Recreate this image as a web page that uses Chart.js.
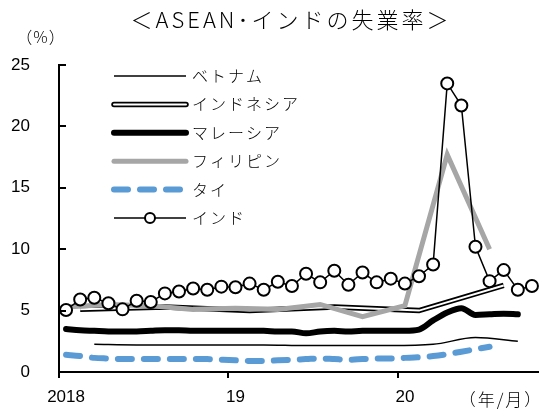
<!DOCTYPE html>
<html>
<head>
<meta charset="utf-8">
<script src="https://cdn.jsdelivr.net/npm/chart.js@4"></script>
<style>
  html, body { margin: 0; padding: 0; background: #fff; }
  canvas { display: block; }
</style>
</head>
<body>
<canvas id="c" width="539" height="414"></canvas>
<script>
// Monthly categories, 2018/1 to 2020/10
const months = [
  '2018/1','2018/2','2018/3','2018/4','2018/5','2018/6','2018/7','2018/8','2018/9','2018/10','2018/11','2018/12',
  '2019/1','2019/2','2019/3','2019/4','2019/5','2019/6','2019/7','2019/8','2019/9','2019/10','2019/11','2019/12',
  '2020/1','2020/2','2020/3','2020/4','2020/5','2020/6','2020/7','2020/8','2020/9','2020/10'
];
const yearTickLabels = ['2018', '19', '20'];
const yTicks = [0, 5, 10, 15, 20, 25];

const seriesNames = ['ベトナム', 'インドネシア', 'マレーシア', 'フィリピン', 'タイ', 'インド'];

// Unemployment rate (%); null = no release that month
const vietnam = [
  null, null, 2.25, null, null, 2.2, null, null, 2.2, null, null, 2.2,
  null, null, 2.2, null, null, 2.15, null, null, 2.15, null, null, 2.15,
  null, null, 2.25, null, null, 2.8, null, null, 2.5, null
];
const indonesia = [
  null, 5.1, null, null, null, null, null, 5.3, null, null, null, null,
  null, 5.0, null, null, null, null, null, 5.3, null, null, null, null,
  null, 5.0, null, null, null, null, null, 7.05, null, null
];
const malaysia = [
  3.5, 3.4, 3.35, 3.3, 3.3, 3.3, 3.35, 3.4, 3.4, 3.35, 3.35, 3.35,
  3.35, 3.35, 3.35, 3.3, 3.3, 3.15, 3.3, 3.35, 3.3, 3.35, 3.35, 3.35,
  3.35, 3.45, 4.2, 4.85, 5.2, 4.65, 4.7, 4.75, 4.7, null
];
const philippines = [
  5.3, null, null, 5.5, null, null, 5.4, null, null, 5.1, null, null,
  5.2, null, null, 5.1, null, null, 5.5, null, null, 4.5, null, null,
  5.4, null, null, 17.7, null, null, 10.0, null, null, null
];
const thailand = [
  1.4, 1.3, 1.15, 1.1, 1.05, 1.05, 1.05, 1.05, 1.05, 1.05, 1.05, 1.0,
  0.95, 0.9, 0.9, 0.95, 1.0, 1.05, 1.1, 1.05, 1.0, 1.05, 1.1, 1.1,
  1.15, 1.2, 1.3, 1.45, 1.65, 1.85, 2.05, null, null, null
];
const india = [
  5.05, 5.9, 6.05, 5.6, 5.1, 5.8, 5.7, 6.4, 6.55, 6.8, 6.7, 6.95,
  6.9, 7.2, 6.7, 7.35, 7.0, 8.0, 7.3, 8.25, 7.1, 8.1, 7.3, 7.6,
  7.2, 7.8, 8.75, 23.5, 21.7, 10.2, 7.4, 8.3, 6.7, 7.0
];

const JP = '"Noto Sans CJK JP", "Noto Sans", sans-serif';
const NUM = '"Liberation Sans", Arial, sans-serif';
const BLUE = '#5b9bd5';
const GRAY = '#a6a6a6';

const line = (extra) => Object.assign({
  pointRadius: 0, pointHoverRadius: 0, fill: false, spanGaps: true, tension: 0
}, extra);

const datasets = [
  line({ label: seriesNames[5], data: india, order: 0, borderColor: '#000', borderWidth: 1.5,
         pointRadius: 6, pointBorderWidth: 2, pointBorderColor: '#000', pointBackgroundColor: '#fff' }),
  line({ label: seriesNames[4], data: thailand, order: 1, borderColor: BLUE, borderWidth: 6,
         borderDash: [14, 12], borderCapStyle: 'round', cubicInterpolationMode: 'monotone', spanGaps: false }),
  line({ label: seriesNames[3], data: philippines, order: 2, borderColor: GRAY, borderWidth: 5 }),
  line({ label: seriesNames[2], data: malaysia, order: 3, borderColor: '#000', borderWidth: 6,
         cubicInterpolationMode: 'monotone', borderCapStyle: 'round' }),
  line({ label: seriesNames[1], data: indonesia, order: 4, borderColor: '#fff', borderWidth: 2 }),
  line({ label: seriesNames[1], data: indonesia, order: 5, borderColor: '#000', borderWidth: 5.5 }),
  line({ label: seriesNames[0], data: vietnam, order: 6, borderColor: '#000', borderWidth: 1.5,
         cubicInterpolationMode: 'monotone' })
];

// Legend keys, titles, unit labels and inward y-axis ticks
const decor = {
  id: 'decor',
  afterDraw(chart) {
    const ctx = chart.ctx;
    const area = chart.chartArea;
    const ys = chart.scales.y;
    ctx.save();

    // short tick marks pointing into the plot
    ctx.strokeStyle = '#000';
    ctx.lineWidth = 2;
    yTicks.forEach(v => {
      const py = Math.round(ys.getPixelForValue(v));
      ctx.beginPath();
      ctx.moveTo(area.left, py);
      ctx.lineTo(area.left + 7, py);
      ctx.stroke();
    });

    // title
    ctx.fillStyle = '#000';
    ctx.textBaseline = 'middle';
    ctx.textAlign = 'center';
    ctx.font = '300 22px ' + JP;
    ctx.letterSpacing = '3px';
    ctx.fillText('＜ASEAN･インドの失業率＞', 291, 20);

    // units
    ctx.font = '300 16px ' + JP;
    ctx.letterSpacing = '1px';
    ctx.fillText('（%）', 41, 37);
    ctx.font = '300 17px ' + JP;
    ctx.letterSpacing = '2px';
    ctx.fillText('（年/月）', 501, 400);

    // legend
    const x1 = 114, x2 = 186, tx = 192;
    const rowY = i => 76 + i * 28.4;
    const stroke = (y, color, width, dash, cap) => {
      ctx.beginPath();
      ctx.setLineDash(dash || []);
      ctx.lineCap = cap || 'butt';
      ctx.strokeStyle = color;
      ctx.lineWidth = width;
      ctx.moveTo(x1, y);
      ctx.lineTo(x2, y);
      ctx.stroke();
      ctx.setLineDash([]);
    };
    const styles = [
      y => stroke(y, '#000', 1.5),
      y => { stroke(y, '#000', 5.5, null, 'round'); stroke(y, '#fff', 2, null, 'round'); },
      y => stroke(y, '#000', 6, null, 'round'),
      y => stroke(y, GRAY, 5, null, 'round'),
      y => stroke(y, BLUE, 6, [14, 12], 'round'),
      y => {
        stroke(y, '#000', 1.5);
        ctx.beginPath();
        ctx.arc((x1 + x2) / 2, y, 5, 0, Math.PI * 2);
        ctx.fillStyle = '#fff';
        ctx.fill();
        ctx.lineWidth = 2;
        ctx.strokeStyle = '#000';
        ctx.stroke();
      }
    ];
    ctx.textAlign = 'left';
    ctx.font = '300 16px ' + JP;
    ctx.letterSpacing = '2px';
    seriesNames.forEach((name, i) => {
      const y = rowY(i);
      styles[i](y);
      ctx.fillStyle = '#000';
      ctx.fillText(name, tx, y);
    });

    ctx.restore();
  }
};

new Chart(document.getElementById('c'), {
  type: 'line',
  data: { labels: months, datasets },
  plugins: [decor],
  options: {
    responsive: false,
    animation: false,
    devicePixelRatio: 1,
    layout: { autoPadding: false, padding: { top: 65, left: 0, right: 0, bottom: 0 } },
    plugins: { legend: { display: false }, tooltip: { enabled: false }, title: { display: false } },
    scales: {
      x: {
        type: 'category',
        offset: true,
        afterFit: s => { s.height = 42; s.paddingLeft = 0; s.paddingRight = 0; },
        border: { display: true, color: '#000', width: 2 },
        grid: {
          offset: true,
          drawOnChartArea: false,
          drawTicks: true,
          tickLength: 6,
          lineWidth: 2,
          color: c => (c.index % 12 === 0 && c.index < months.length) ? '#000' : 'rgba(0,0,0,0)'
        },
        ticks: {
          autoSkip: false,
          maxRotation: 0,
          padding: 9,
          color: '#000',
          font: { family: NUM, size: 17 },
          callback: (v, i) => (i % 12 === 0) ? yearTickLabels[i / 12] : ''
        }
      },
      y: {
        min: 0,
        max: 25,
        afterFit: s => { s.width = 59; s.paddingTop = 0; s.paddingBottom = 0; },
        border: { display: true, color: '#000', width: 2 },
        grid: { display: false, drawTicks: false },
        ticks: {
          stepSize: 5,
          padding: 29,
          color: '#000',
          font: { family: NUM, size: 17 }
        }
      }
    }
  }
});
</script>
</body>
</html>
